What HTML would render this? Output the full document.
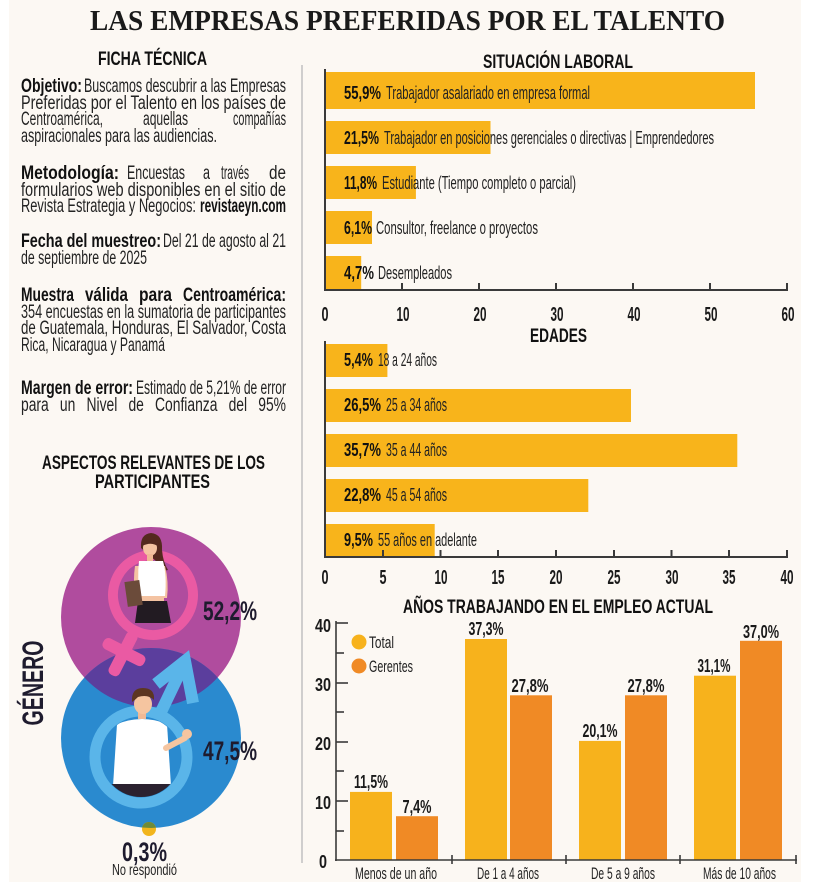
<!DOCTYPE html>
<html>
<head>
<meta charset="utf-8">
<style>
html,body{margin:0;padding:0;background:#ffffff;}
svg{display:block;}
.s{font-family:"Liberation Sans Narrow","Liberation Sans",sans-serif;}
.b{font-weight:bold;}
</style>
</head>
<body>
<svg width="817" height="882" viewBox="0 0 817 882" xmlns="http://www.w3.org/2000/svg">
<defs>
  <clipPath id="blueClip"><circle cx="151" cy="738" r="90"/></clipPath>
  <clipPath id="manClip"><circle cx="141" cy="757" r="40"/></clipPath>
</defs>
<rect x="0" y="0" width="817" height="882" fill="#ffffff"/>
<rect x="9" y="0" width="792" height="882" fill="#fcf8f3"/>

<text x="90" y="30" font-family="Liberation Serif, serif" font-weight="bold" font-size="28" fill="#1a1a1a" textLength="635" lengthAdjust="spacingAndGlyphs">LAS EMPRESAS PREFERIDAS POR EL TALENTO</text>

<line x1="302" y1="65" x2="302" y2="863" stroke="#c4c4c4" stroke-width="1.6"/>

<g class="s" fill="#232323">
<text class="b" x="98" y="65" font-size="19.5" fill="#111" textLength="109" lengthAdjust="spacingAndGlyphs">FICHA TÉCNICA</text>

<g font-size="19">
<text class="b" x="21" y="92" fill="#111" textLength="61" lengthAdjust="spacingAndGlyphs">Objetivo:</text>
<text x="84" y="92" textLength="202" lengthAdjust="spacingAndGlyphs">Buscamos descubrir a las Empresas</text>
<text x="21" y="109" textLength="265" lengthAdjust="spacingAndGlyphs">Preferidas por el Talento en los países de</text>
<text x="21" y="125" textLength="82" lengthAdjust="spacingAndGlyphs">Centroamérica,</text>
<text x="143" y="125" textLength="45" lengthAdjust="spacingAndGlyphs">aquellas</text>
<text x="233" y="125" textLength="53" lengthAdjust="spacingAndGlyphs">compañías</text>
<text x="21" y="142" textLength="196" lengthAdjust="spacingAndGlyphs">aspiracionales para las audiencias.</text>

<text class="b" x="21" y="179" fill="#111" textLength="98" lengthAdjust="spacingAndGlyphs">Metodología:</text>
<text x="127" y="179" textLength="58" lengthAdjust="spacingAndGlyphs">Encuestas</text>
<text x="203" y="179" textLength="7" lengthAdjust="spacingAndGlyphs">a</text>
<text x="221" y="179" textLength="28" lengthAdjust="spacingAndGlyphs">través</text>
<text x="269" y="179" textLength="17" lengthAdjust="spacingAndGlyphs">de</text>
<text x="21" y="196" textLength="265" lengthAdjust="spacingAndGlyphs">formularios web disponibles en el sitio de</text>
<text x="21" y="212" textLength="175" lengthAdjust="spacingAndGlyphs">Revista Estrategia y Negocios:</text>
<text class="b" x="200" y="212" fill="#111" textLength="86" lengthAdjust="spacingAndGlyphs">revistaeyn.com</text>

<text class="b" x="21" y="247" fill="#111" textLength="140" lengthAdjust="spacingAndGlyphs">Fecha del muestreo:</text>
<text x="163" y="247" textLength="123" lengthAdjust="spacingAndGlyphs">Del  21 de agosto al 21</text>
<text x="21" y="264" textLength="126" lengthAdjust="spacingAndGlyphs">de septiembre de 2025</text>

<text class="b" x="21" y="301" fill="#111" textLength="53" lengthAdjust="spacingAndGlyphs">Muestra</text>
<text class="b" x="85" y="301" fill="#111" textLength="43" lengthAdjust="spacingAndGlyphs">válida</text>
<text class="b" x="139" y="301" fill="#111" textLength="33" lengthAdjust="spacingAndGlyphs">para</text>
<text class="b" x="183" y="301" fill="#111" textLength="103" lengthAdjust="spacingAndGlyphs">Centroamérica:</text>
<text x="21" y="318" textLength="265" lengthAdjust="spacingAndGlyphs">354 encuestas en la sumatoria de participantes</text>
<text x="21" y="334" textLength="265" lengthAdjust="spacingAndGlyphs">de Guatemala, Honduras, El Salvador, Costa</text>
<text x="21" y="351" textLength="144" lengthAdjust="spacingAndGlyphs">Rica, Nicaragua y Panamá</text>

<text class="b" x="21" y="394" fill="#111" textLength="112" lengthAdjust="spacingAndGlyphs">Margen de error:</text>
<text x="136" y="394" textLength="150" lengthAdjust="spacingAndGlyphs">Estimado de 5,21% de error</text>
<text x="21" y="411" word-spacing="10" textLength="265" lengthAdjust="spacingAndGlyphs">para un Nivel de Confianza del 95%</text>
</g>

<text class="b" x="42" y="469" font-size="19.5" fill="#111" textLength="223" lengthAdjust="spacingAndGlyphs">ASPECTOS RELEVANTES DE LOS</text>
<text class="b" x="95" y="488" font-size="19.5" fill="#111" textLength="115" lengthAdjust="spacingAndGlyphs">PARTICIPANTES</text>
</g>

<circle cx="151" cy="617" r="90" fill="#b04c9e"/>
<circle cx="151" cy="738" r="90" fill="#2a8acf"/>
<circle cx="151" cy="617" r="90" fill="#5b3e9d" clip-path="url(#blueClip)"/>

<g transform="translate(153,595) rotate(27)">
  <circle cx="0" cy="0" r="40" fill="none" stroke="#ea5aa3" stroke-width="10"/>
  <rect x="-6" y="42" width="12" height="48" rx="5" fill="#ea5aa3"/>
  <rect x="-23" y="58" width="46" height="12" rx="5" fill="#ea5aa3"/>
</g>
<g>
  <path d="M141,548 Q140,534 151,533 Q163,534 162,550 Q163,562 168,570 Q160,572 157,562 Z" fill="#54291f"/>
  <ellipse cx="150" cy="548" rx="7" ry="8" fill="#f4c3a2"/>
  <path d="M142,546 Q144,536 152,537 Q158,539 159,547 Q152,541 142,546 Z" fill="#54291f"/>
  <rect x="147" y="554" width="6" height="8" fill="#f0b995"/>
  <path d="M135,566 Q133,580 135,592 L139,592 L140,566 Z" fill="#f4c3a2"/>
  <path d="M165,566 Q169,582 167,598 L163,598 L162,566 Z" fill="#f4c3a2"/>
  <path d="M139,561 L163,561 Q167,576 165,596 L140,596 Q137,578 139,561 Z" fill="#ffffff"/>
  <rect x="141" y="596" width="23" height="6" fill="#f4c3a2"/>
  <path d="M138,601 L167,601 L171,623 L135,623 Z" fill="#221b22"/>
  <rect x="126" y="581" width="15" height="25" fill="#6b4b3a" transform="rotate(-8 133 593)"/>
</g>

<g>
  <line x1="160" y1="714" x2="183" y2="666" stroke="#5ab5e9" stroke-width="12"/>
  <polyline points="156,684 185,661 193,703" fill="none" stroke="#5ab5e9" stroke-width="12" stroke-linejoin="miter"/>
  <circle cx="141" cy="757" r="46" fill="none" stroke="#5ab5e9" stroke-width="11"/>
</g>
<g>
  <g clip-path="url(#manClip)">
    <path d="M117,724 Q142,714 167,724 L171,786 L113,786 Z" fill="#ffffff"/>
    <rect x="110" y="784" width="64" height="16" fill="#2b2230"/>
  </g>
  <rect x="138" y="709" width="8" height="10" fill="#f0b995"/>
  <ellipse cx="143" cy="704" rx="9" ry="10" fill="#f5c5a0"/>
  <path d="M132,702 Q131,688 143,688 Q155,688 154,700 Q148,694 138,697 Q135,700 132,702 Z" fill="#5c3621"/>
  <path d="M166,748 L185,738" stroke="#f5c5a0" stroke-width="6" stroke-linecap="round"/>
  <circle cx="187" cy="734" r="5" fill="#f5c5a0"/>
</g>

<circle cx="149" cy="829" r="7" fill="#f2b51c"/>
<circle cx="149" cy="829" r="7" fill="#6e8b3a" clip-path="url(#blueClip)"/>

<g class="s">
<text class="b" x="203" y="620" font-size="27" fill="#1e1b2e" textLength="54" lengthAdjust="spacingAndGlyphs">52,2%</text>
<text class="b" x="203" y="760" font-size="27" fill="#1e1b2e" textLength="54" lengthAdjust="spacingAndGlyphs">47,5%</text>
<text class="b" x="122" y="861" font-size="27" fill="#1e1b2e" textLength="45" lengthAdjust="spacingAndGlyphs">0,3%</text>
<text x="112" y="875" font-size="16" fill="#222" textLength="65" lengthAdjust="spacingAndGlyphs">No respondió</text>
<text class="b" transform="translate(43,683) rotate(-90)" x="0" y="0" text-anchor="middle" font-size="30" fill="#1e1b2e" textLength="85" lengthAdjust="spacingAndGlyphs">GÉNERO</text>
</g>

<g class="s">
<text class="b" x="483" y="68" font-size="19.5" fill="#111" textLength="150" lengthAdjust="spacingAndGlyphs">SITUACIÓN LABORAL</text>
<g fill="#f8b41b">
  <rect x="325" y="72" width="430" height="37"/>
  <rect x="325" y="121" width="165.5" height="33"/>
  <rect x="325" y="166" width="90.9" height="33"/>
  <rect x="325" y="211" width="47" height="33"/>
  <rect x="325" y="256" width="36.2" height="33"/>
</g>
<g font-size="18.5" fill="#222">
  <text class="b" x="344" y="99" fill="#111" textLength="37" lengthAdjust="spacingAndGlyphs">55,9%</text>
  <text x="386" y="99" textLength="204" lengthAdjust="spacingAndGlyphs">Trabajador asalariado en empresa formal</text>
  <text class="b" x="344" y="144" fill="#111" textLength="35" lengthAdjust="spacingAndGlyphs">21,5%</text>
  <text x="384" y="144" textLength="330" lengthAdjust="spacingAndGlyphs">Trabajador en posiciones gerenciales o directivas | Emprendedores</text>
  <text class="b" x="344" y="189" fill="#111" textLength="33" lengthAdjust="spacingAndGlyphs">11,8%</text>
  <text x="382" y="189" textLength="194" lengthAdjust="spacingAndGlyphs">Estudiante (Tiempo completo o parcial)</text>
  <text class="b" x="344" y="234" fill="#111" textLength="28" lengthAdjust="spacingAndGlyphs">6,1%</text>
  <text x="376" y="234" textLength="162" lengthAdjust="spacingAndGlyphs">Consultor, freelance o  proyectos</text>
  <text class="b" x="344" y="279" fill="#111" textLength="30" lengthAdjust="spacingAndGlyphs">4,7%</text>
  <text x="378" y="279" textLength="74" lengthAdjust="spacingAndGlyphs">Desempleados</text>
</g>
<g stroke="#3a3a3a" stroke-width="2">
  <line x1="325" y1="69" x2="325" y2="291"/>
  <line x1="324" y1="290" x2="788" y2="290"/>
  <line x1="402" y1="290" x2="402" y2="283"/>
  <line x1="479" y1="290" x2="479" y2="283"/>
  <line x1="556" y1="290" x2="556" y2="283"/>
  <line x1="633" y1="290" x2="633" y2="283"/>
  <line x1="710" y1="290" x2="710" y2="283"/>
  <line x1="787" y1="291" x2="787" y2="283"/>
</g>
<g class="b" font-size="20" fill="#1a1a1a" text-anchor="middle">
  <text x="325" y="321" textLength="7" lengthAdjust="spacingAndGlyphs">0</text>
  <text x="403" y="321" textLength="13" lengthAdjust="spacingAndGlyphs">10</text>
  <text x="480" y="321" textLength="13" lengthAdjust="spacingAndGlyphs">20</text>
  <text x="557" y="321" textLength="13" lengthAdjust="spacingAndGlyphs">30</text>
  <text x="634" y="321" textLength="13" lengthAdjust="spacingAndGlyphs">40</text>
  <text x="711" y="321" textLength="13" lengthAdjust="spacingAndGlyphs">50</text>
  <text x="788" y="321" textLength="13" lengthAdjust="spacingAndGlyphs">60</text>
</g>
</g>

<g class="s">
<text class="b" x="530" y="342" font-size="19.5" fill="#111" textLength="57" lengthAdjust="spacingAndGlyphs">EDADES</text>
<g fill="#f8b41b">
  <rect x="325" y="344" width="62.4" height="33"/>
  <rect x="325" y="389" width="306" height="33"/>
  <rect x="325" y="434" width="412.3" height="33"/>
  <rect x="325" y="479" width="263.3" height="33"/>
  <rect x="325" y="524" width="109.7" height="33"/>
</g>
<g font-size="18.5" fill="#222">
  <text class="b" x="344" y="366" fill="#111" textLength="29" lengthAdjust="spacingAndGlyphs">5,4%</text>
  <text x="378" y="366" textLength="59" lengthAdjust="spacingAndGlyphs">18 a 24 años</text>
  <text class="b" x="344" y="411" fill="#111" textLength="37" lengthAdjust="spacingAndGlyphs">26,5%</text>
  <text x="386" y="411" textLength="61" lengthAdjust="spacingAndGlyphs">25 a 34 años</text>
  <text class="b" x="344" y="456" fill="#111" textLength="37" lengthAdjust="spacingAndGlyphs">35,7%</text>
  <text x="386" y="456" textLength="61" lengthAdjust="spacingAndGlyphs">35 a 44 años</text>
  <text class="b" x="344" y="501" fill="#111" textLength="37" lengthAdjust="spacingAndGlyphs">22,8%</text>
  <text x="386" y="501" textLength="61" lengthAdjust="spacingAndGlyphs">45 a 54 años</text>
  <text class="b" x="344" y="546" fill="#111" textLength="29" lengthAdjust="spacingAndGlyphs">9,5%</text>
  <text x="378" y="546" textLength="99" lengthAdjust="spacingAndGlyphs">55 años en adelante</text>
</g>
<g stroke="#3a3a3a" stroke-width="2">
  <line x1="325" y1="341" x2="325" y2="558"/>
  <line x1="324" y1="557" x2="788" y2="557"/>
  <line x1="383" y1="557" x2="383" y2="550"/>
  <line x1="440.5" y1="557" x2="440.5" y2="550"/>
  <line x1="498" y1="557" x2="498" y2="550"/>
  <line x1="556" y1="557" x2="556" y2="550"/>
  <line x1="614" y1="557" x2="614" y2="550"/>
  <line x1="671.5" y1="557" x2="671.5" y2="550"/>
  <line x1="729" y1="557" x2="729" y2="550"/>
  <line x1="787" y1="558" x2="787" y2="550"/>
</g>
<g class="b" font-size="20" fill="#1a1a1a" text-anchor="middle">
  <text x="325" y="584" textLength="7" lengthAdjust="spacingAndGlyphs">0</text>
  <text x="383" y="584" textLength="7" lengthAdjust="spacingAndGlyphs">5</text>
  <text x="441" y="584" textLength="13" lengthAdjust="spacingAndGlyphs">10</text>
  <text x="498" y="584" textLength="13" lengthAdjust="spacingAndGlyphs">15</text>
  <text x="556" y="584" textLength="13" lengthAdjust="spacingAndGlyphs">20</text>
  <text x="614" y="584" textLength="13" lengthAdjust="spacingAndGlyphs">25</text>
  <text x="672" y="584" textLength="13" lengthAdjust="spacingAndGlyphs">30</text>
  <text x="729" y="584" textLength="13" lengthAdjust="spacingAndGlyphs">35</text>
  <text x="787" y="584" textLength="13" lengthAdjust="spacingAndGlyphs">40</text>
</g>
</g>

<g class="s">
<text class="b" x="403" y="613" font-size="19.5" fill="#111" textLength="310" lengthAdjust="spacingAndGlyphs">AÑOS TRABAJANDO EN EL EMPLEO ACTUAL</text>
<g fill="#f7b21c">
  <rect x="350" y="791.9" width="42" height="68.1"/>
  <rect x="465" y="639" width="42" height="221"/>
  <rect x="579" y="740.9" width="42" height="119.1"/>
  <rect x="694" y="675.7" width="42" height="184.3"/>
</g>
<g fill="#f08a25">
  <rect x="396" y="816.2" width="42" height="43.8"/>
  <rect x="510" y="695.3" width="42" height="164.7"/>
  <rect x="625" y="695.3" width="42" height="164.7"/>
  <rect x="740" y="640.8" width="42" height="219.2"/>
</g>
<g class="b" font-size="18.5" fill="#1a1a1a" text-anchor="middle">
  <text x="371" y="788" textLength="34" lengthAdjust="spacingAndGlyphs">11,5%</text>
  <text x="417" y="813" textLength="29" lengthAdjust="spacingAndGlyphs">7,4%</text>
  <text x="486" y="635" textLength="35" lengthAdjust="spacingAndGlyphs">37,3%</text>
  <text x="530" y="692" textLength="37" lengthAdjust="spacingAndGlyphs">27,8%</text>
  <text x="600" y="737" textLength="35" lengthAdjust="spacingAndGlyphs">20,1%</text>
  <text x="646" y="692" textLength="37" lengthAdjust="spacingAndGlyphs">27,8%</text>
  <text x="714" y="672" textLength="33" lengthAdjust="spacingAndGlyphs">31,1%</text>
  <text x="761" y="638" textLength="36" lengthAdjust="spacingAndGlyphs">37,0%</text>
</g>
<circle cx="359" cy="642" r="7.5" fill="#f7b21c"/>
<circle cx="359" cy="666" r="7.5" fill="#f08a25"/>
<text x="369" y="648" font-size="17" fill="#222" textLength="25" lengthAdjust="spacingAndGlyphs">Total</text>
<text x="369" y="672" font-size="17" fill="#222" textLength="44" lengthAdjust="spacingAndGlyphs">Gerentes</text>
<g stroke="#3a3a3a" stroke-width="1.6">
  <line x1="336" y1="621" x2="336" y2="861"/>
  <line x1="335" y1="860" x2="797" y2="860"/>
  <line x1="336" y1="623" x2="348" y2="623"/>
  <line x1="336" y1="683" x2="348" y2="683"/>
  <line x1="336" y1="742" x2="348" y2="742"/>
  <line x1="336" y1="801" x2="348" y2="801"/>
  <line x1="336" y1="653" x2="344" y2="653"/>
  <line x1="336" y1="712" x2="344" y2="712"/>
  <line x1="336" y1="771" x2="344" y2="771"/>
  <line x1="336" y1="831" x2="344" y2="831"/>
  <line x1="452" y1="855" x2="452" y2="864"/>
  <line x1="566" y1="855" x2="566" y2="864"/>
  <line x1="680" y1="855" x2="680" y2="864"/>
  <line x1="796" y1="855" x2="796" y2="864"/>
</g>
<g class="b" font-size="18.5" fill="#1a1a1a" text-anchor="middle">
  <text x="323" y="632" textLength="16" lengthAdjust="spacingAndGlyphs">40</text>
  <text x="323" y="691" textLength="16" lengthAdjust="spacingAndGlyphs">30</text>
  <text x="323" y="750" textLength="16" lengthAdjust="spacingAndGlyphs">20</text>
  <text x="323" y="809" textLength="16" lengthAdjust="spacingAndGlyphs">10</text>
  <text x="323" y="868" textLength="8" lengthAdjust="spacingAndGlyphs">0</text>
</g>
<g font-size="17" fill="#222">
  <text x="355" y="879" textLength="82" lengthAdjust="spacingAndGlyphs">Menos de un año</text>
  <text x="477" y="879" textLength="62" lengthAdjust="spacingAndGlyphs">De 1 a 4 años</text>
  <text x="591" y="879" textLength="64" lengthAdjust="spacingAndGlyphs">De 5 a 9 años</text>
  <text x="703" y="879" textLength="73" lengthAdjust="spacingAndGlyphs">Más de 10 años</text>
</g>
</g>
</svg>
</body>
</html>
